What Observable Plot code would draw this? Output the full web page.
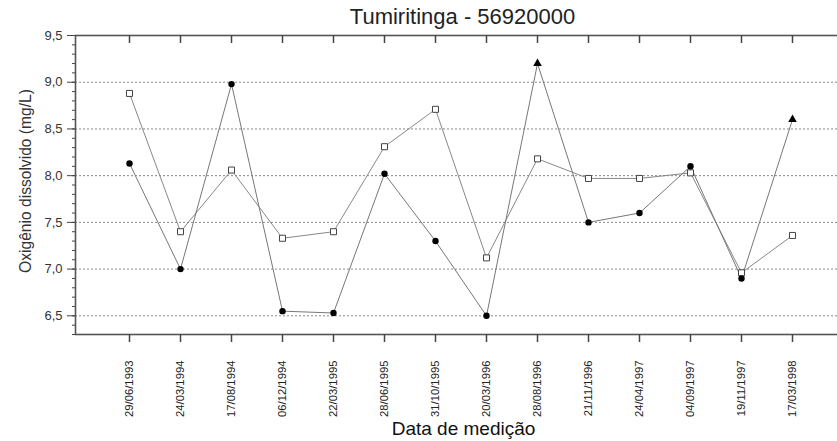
<!DOCTYPE html>
<html><head><meta charset="utf-8">
<script src="https://cdn.jsdelivr.net/npm/d3@7"></script>
<script src="https://cdn.jsdelivr.net/npm/@observablehq/plot@0.6"></script>
<style>body{margin:0;background:#fff} svg{display:block}</style>
</head><body><div id="chart"></div>
<script>
const dates = ["29/06/1993","24/03/1994","17/08/1994","06/12/1994","22/03/1995","28/06/1995","31/10/1995","20/03/1996","28/08/1996","21/11/1996","24/04/1997","04/09/1997","19/11/1997","17/03/1998"];
const seriesFilled = [8.13,7.00,8.98,6.55,6.53,8.02,7.30,6.50,9.20,7.50,7.60,8.10,6.90,8.60];
const seriesFilledMarker = ["circle","circle","circle","circle","circle","circle","circle","circle","triangle","circle","circle","circle","circle","triangle"];
const seriesOpen = [8.88,7.40,8.06,7.33,7.40,8.31,8.71,7.12,8.18,7.97,7.97,8.03,6.96,7.36];
const yMajorTicks = [6.5,7.0,7.5,8.0,8.5,9.0,9.5];
const yMinorTicks = [6.3,6.4,6.5,6.6,6.7,6.8,6.9,7.0,7.1,7.2,7.3,7.4,7.5,7.6,7.7,7.8,7.9,8.0,8.1,8.2,8.3,8.4,8.5,8.6,8.7,8.8,8.9,9.0,9.1,9.2,9.3,9.4,9.5];
const gridValues = [6.5,7.0,7.5,8.0,8.5,9.0];
const yDomain = [6.3, 9.5];
const titleText = "Tumiritinga - 56920000";
const xLabelText = "Data de medição";
const yLabelText = "Oxigênio dissolvido (mg/L)";

const filled = dates.map((d, i) => ({date: d, value: seriesFilled[i], marker: seriesFilledMarker[i]}));
const open = dates.map((d, i) => ({date: d, value: seriesOpen[i]}));

const font = "Liberation Sans, Arial, sans-serif";

const chart = Plot.plot({
  width: 837,
  height: 441,
  marginLeft: 75,
  marginRight: 0,
  marginTop: 35,
  marginBottom: 107,
  style: {fontFamily: font, color: "#222", background: "#fff"},
  x: {type: "point", domain: dates, range: [75, 846], padding: 1},
  y: {domain: yDomain},
  symbol: {type: "identity"},
  marks: [
    Plot.ruleY(gridValues, {stroke: "#888", strokeWidth: 1, strokeDasharray: "2,2"}),
    Plot.frame({stroke: "#555", strokeWidth: 1.6, insetRight: -4}),
    Plot.axisY({ticks: yMinorTicks, tickSize: 3, tickFormat: () => "", label: null, stroke: "#444"}),
    Plot.axisY({ticks: yMajorTicks, tickSize: 8, tickPadding: 5, tickFormat: d => d.toFixed(1).replace(".", ","), label: null, fontSize: 13, stroke: "#444", fill: "#333"}),
    Plot.tickX(dates, {x: d => d, insetBottom: 291, stroke: "#444", strokeWidth: 1.5}),
    Plot.axisX({anchor: "bottom", tickSize: 8, tickPadding: 18, tickRotate: -90, fontSize: 11.3, label: null, stroke: "#444", strokeWidth: 1.5, fill: "#222"}),
    Plot.line(open, {x: "date", y: "value", stroke: "#888", strokeWidth: 1}),
    Plot.line(filled, {x: "date", y: "value", stroke: "#777", strokeWidth: 1}),
    Plot.dot(open, {x: "date", y: "value", symbol: "square", r: 3.4, fill: "#fff", stroke: "#444", strokeWidth: 1}),
    Plot.dot(filled, {x: "date", y: "value", symbol: "marker", r: 3.2, fill: "#000", stroke: "none"}),
    Plot.text([titleText], {frameAnchor: "top", dx: 6, dy: -27, fontSize: 22, fill: "#222", letterSpacing: "0.8px"}),
    Plot.text([xLabelText], {frameAnchor: "bottom", dx: 7, dy: 100, fontSize: 19, fill: "#111", letterSpacing: "1px"}),
    Plot.text([yLabelText], {frameAnchor: "left", textAnchor: "middle", rotate: -90, dx: -50, dy: -4, fontSize: 15.6, fill: "#333"})
  ]
});
document.getElementById("chart").appendChild(chart);
</script>
</body></html>
